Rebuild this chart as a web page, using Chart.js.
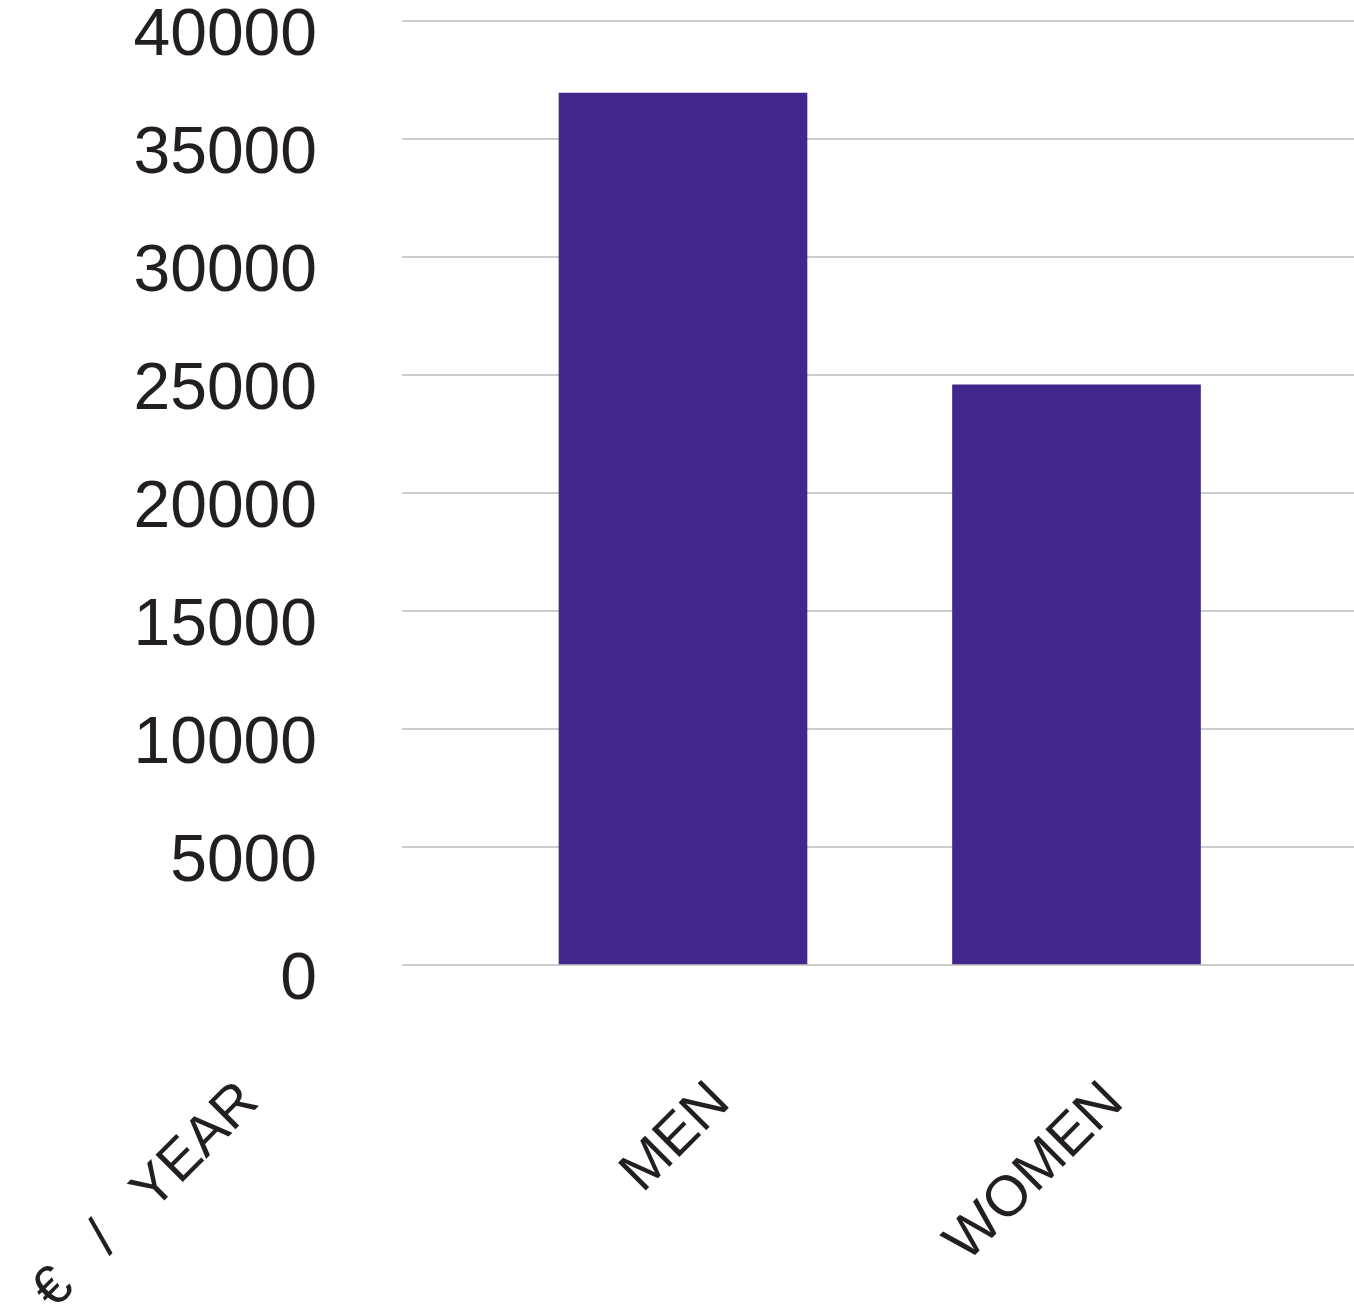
<!DOCTYPE html>
<html>
<head>
<meta charset="utf-8">
<script src="https://cdn.jsdelivr.net/npm/chart.js@4/dist/chart.umd.min.js"></script>
<style>
  html, body { margin: 0; padding: 0; background: #fff; }
  #chart-box { width: 1354px; height: 1311px; position: relative; }
</style>
</head>
<body>
<div id="chart-box"><canvas id="myChart"></canvas></div>
<script>
// income per year, by gender
const categories = ['MEN', 'WOMEN'];
const incomeValues = [36950, 24580];
const yTicks = [0, 5000, 10000, 15000, 20000, 25000, 30000, 35000, 40000];
const unitLabel = '€   /   YEAR';

const textColor = '#231f20';
const barColor = '#41278b';

// bars sit at x = 1, 2 on a linear axis so the grid can run past them
const barData = categories.map((c, i) => ({ x: i + 1, y: incomeValues[i] }));

// rotated unit label under the value axis
const unitLabelPlugin = {
  id: 'unitLabel',
  afterDraw(chart) {
    const ctx = chart.ctx;
    ctx.save();
    ctx.translate(250, 1093);
    ctx.rotate(-Math.PI / 4);
    ctx.font = '56px "Liberation Sans", Arial, sans-serif';
    ctx.fillStyle = textColor;
    ctx.textAlign = 'right';
    ctx.textBaseline = 'middle';
    ctx.fillText(unitLabel, 0, 0);
    ctx.restore();
  }
};

const ctx = document.getElementById('myChart').getContext('2d');
const chart = new Chart(ctx, {
  type: 'bar',
  data: {
    datasets: [{
      data: barData,
      backgroundColor: barColor,
      borderWidth: 0,
      barThickness: 248
    }]
  },
  options: {
    responsive: true,
    maintainAspectRatio: false,
    animation: false,
    layout: {
      padding: { top: 21, right: 0, bottom: 0, left: 0 }
    },
    plugins: {
      legend: { display: false },
      tooltip: { enabled: false }
    },
    scales: {
      x: {
        type: 'linear',
        min: 0.2859,
        max: 2.7052,
        offset: false,
        grid: { display: false, drawTicks: false },
        border: { display: false },
        afterBuildTicks: function (scale) {
          scale.ticks = categories.map((c, i) => ({ value: i + 1 }));
        },
        afterFit: function (scale) {
          scale.height = 346;
          scale.paddingLeft = 0;
          scale.paddingRight = 0;
        },
        ticks: {
          autoSkip: false,
          minRotation: 45,
          maxRotation: 45,
          padding: 104,
          labelOffset: 38,
          color: textColor,
          font: { family: '"Liberation Sans", Arial, sans-serif', size: 57 },
          callback: function (value) {
            return categories[value - 1];
          }
        }
      },
      y: {
        min: 0,
        max: 40000,
        grid: { color: '#cccccc', lineWidth: 2, drawTicks: false },
        border: { display: false },
        afterBuildTicks: function (scale) {
          scale.ticks = yTicks.map(v => ({ value: v }));
        },
        afterFit: function (scale) {
          scale.width = 402;
          scale.paddingTop = 0;
          scale.paddingBottom = 0;
        },
        ticks: {
          padding: 85,
          labelOffset: 16,
          color: textColor,
          font: { family: '"Liberation Sans", Arial, sans-serif', size: 66 },
          callback: function (value) {
            return String(value);
          }
        }
      }
    }
  },
  plugins: [unitLabelPlugin]
});
</script>
</body>
</html>
